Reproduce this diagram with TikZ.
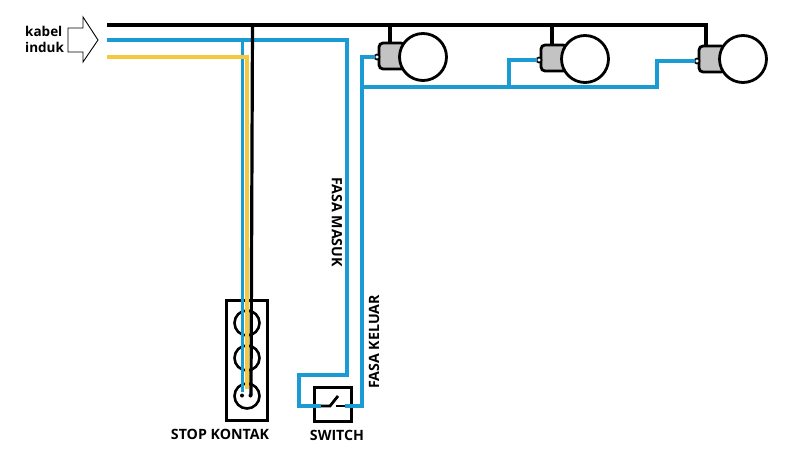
\documentclass[tikz,border=0pt]{standalone}
\usepackage{fontspec}
\setmainfont{Open Sans}
\usetikzlibrary{calc}
\definecolor{wireblue}{RGB}{27,155,212}
\definecolor{wireyellow}{RGB}{243,201,62}
\definecolor{basegray}{RGB}{195,195,195}
\tikzstyle{blackwire} = [line width=3.2pt, draw=black]
\tikzstyle{bluewire} = [line width=3.2pt, draw=wireblue]
\tikzstyle{yellowwire} = [line width=3.2pt, draw=wireyellow]
\tikzstyle{lampbase} = [rectangle,
minimum width=26pt,
minimum height=26pt,
inner sep=0pt,
outer sep=0pt,
draw=black,
line width=2.8pt,
fill=basegray,
rounded corners=4pt]
\tikzstyle{lampglass} = [circle,
minimum size=47pt,
inner sep=0pt,
outer sep=0pt,
draw=black,
line width=2.8pt,
fill=white]
\tikzstyle{lampnub} = [circle,
minimum size=5pt,
inner sep=0pt,
outer sep=0pt,
draw=black,
line width=1.6pt,
fill=white]
\tikzstyle{hole} = [circle,
minimum size=25pt,
inner sep=0pt,
outer sep=0pt,
draw=black,
line width=2.6pt]
\tikzstyle{pin} = [circle, minimum size=4pt, inner sep=0pt, fill=black]
\tikzstyle{label} = [font=\fontsize{14.2}{16}\selectfont\bfseries, inner sep=0pt]

\begin{document}
\begin{tikzpicture}[x=1pt,y=-1pt]
    \useasboundingbox (0,0) rectangle (787,465);
    \fill[white] (0,0) rectangle (787,465);

    % stop kontak
    \node (kontak) [rectangle, draw=black, line width=3pt, minimum width=41pt, minimum height=120pt, inner sep=0pt] at (246.5,360) {};
    \node (hole1) [hole] at (247,323) {};
    \node (hole2) [hole] at (247,358) {};
    \node (hole3) [hole] at (247,396) {};

    % switch
    \node (switch) [rectangle, draw=black, line width=3pt, minimum width=37pt, minimum height=34pt, inner sep=0pt] at (333,404) {};
    \coordinate (swleft) at (321,406);
    \coordinate (swright) at (345,406);
    \coordinate (swmid) at (330,406);
    \coordinate (swtip) at (338,396);
    \coordinate (swstop) at (336,406);
    \draw [line width=2.8pt] (swleft) -- (swmid) -- (swtip);
    \draw [line width=2.8pt] (swstop) -- (swright);

    % lampu
    \node (base1) [lampbase] at (392,56) {};
    \node (glass1) [lampglass] at (423,57) {};
    \node (nub1) [lampnub] at (377,57) {};
    \node (base2) [lampbase] at (554,58) {};
    \node (glass2) [lampglass] at (585,59) {};
    \node (nub2) [lampnub] at (539,60) {};
    \node (base3) [lampbase] at (712,59) {};
    \node (glass3) [lampglass] at (743,59) {};
    \node (nub3) [lampnub] at (697,61) {};

    % panah kabel induk
    \coordinate (arrowa) at (68,28);
    \coordinate (arrowb) at (83,28);
    \coordinate (arrowc) at (83,17);
    \coordinate (arrowd) at (98,40);
    \coordinate (arrowe) at (83,62);
    \coordinate (arrowf) at (83,52);
    \coordinate (arrowg) at (68,52);
    \draw [line width=0.9pt] (arrowa) -- (arrowb) -- (arrowc) -- (arrowd) -- (arrowe) -- (arrowf) -- (arrowg) -- cycle;

    % titik kabel
    \coordinate (neutral) at (107,25);
    \coordinate (tap1) at (390,25);
    \coordinate (tap2) at (552,25);
    \coordinate (neutralend) at (706,25);
    \coordinate (tapk) at (252.5,24);
    \coordinate (tapkend) at (251,395);
    \coordinate (live) at (107,40);
    \coordinate (livek) at (242.5,40);
    \coordinate (livekend) at (242.5,392);
    \coordinate (livecorner) at (347,40);
    \coordinate (ground) at (107,57);
    \coordinate (groundk) at (247,57);
    \coordinate (groundend) at (247,389);
    \coordinate (inlow) at (347,375);
    \coordinate (loopa) at (299,375);
    \coordinate (loopb) at (299,406);
    \coordinate (outlow) at (362,406);
    \coordinate (outtop) at (362,57);
    \coordinate (outmid) at (362,87);
    \coordinate (branch) at (509,87);
    \coordinate (branchtop) at (509,60);
    \coordinate (rowend) at (657,87);
    \coordinate (rowtop) at (657,61);

    % kabel biru
    \draw [bluewire] (live) -- (livecorner) -- (inlow) -- (loopa) -- (loopb) -- (swleft);
    \draw [bluewire] (livek) -- (livekend);
    \draw [bluewire] (swright) -- (outlow) -- (outtop) -- (nub1.west);
    \draw [bluewire] (outmid) -- (rowend) -- (rowtop) -- (nub3.west);
    \draw [bluewire] (branch) -- (branchtop) -- (nub2.west);

    % kabel hitam
    \draw [blackwire] (neutral) -- (neutralend) -- (neutralend |- base3.north);
    \draw [blackwire] (tap1) -- (tap1 |- base1.north);
    \draw [blackwire] (tap2) -- (tap2 |- base2.north);
    \draw [blackwire] (tapk) -- (tapkend);

    % kabel kuning
    \draw [yellowwire] (ground) -- (groundk) -- (groundend);

    % pin stop kontak
    \node (pina) [pin] at (242,395.5) {};
    \node (pinb) [pin] at (250.5,395.5) {};

    % teks
    \node (kabel) [label, font=\fontsize{13.5}{16}\selectfont\bfseries, anchor=west] at (25,31) {kabel};
    \node (induk) [label, font=\fontsize{13.5}{16}\selectfont\bfseries, anchor=west] at (25,47.5) {induk};
    \node (kontaktext) [label] at (220,434) {STOP KONTAK};
    \node (switchtext) [label] at (337,435) {SWITCH};
    \node (masuk) [label, rotate=-90] at (337,222) {FASA MASUK};
    \node (keluar) [label, rotate=90] at (374,342) {FASA KELUAR};
\end{tikzpicture}
\end{document}
